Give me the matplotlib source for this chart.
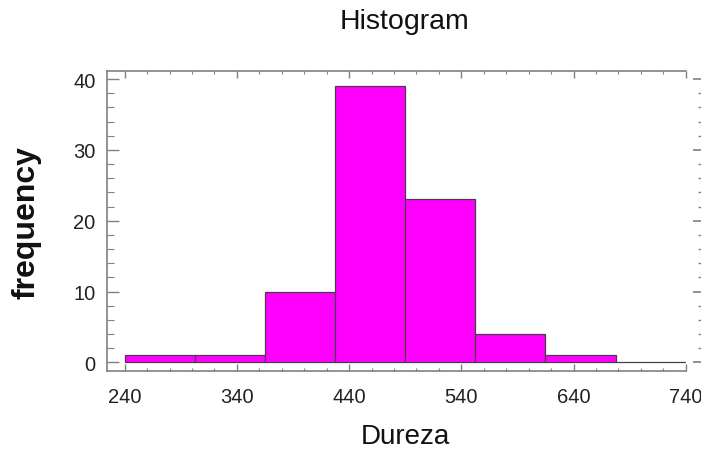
import numpy as np
import matplotlib
matplotlib.use("Agg")
import matplotlib.pyplot as plt
from matplotlib.ticker import MultipleLocator

# histogram of Dureza
bin_edges = [240, 302.5, 365, 427.5, 490, 552.5, 615, 677.5, 740]
counts = [1, 1, 10, 39, 23, 4, 1, 0]
x_ticks = [240, 340, 440, 540, 640, 740]
y_ticks = [0, 10, 20, 30, 40]

plt.rcParams['font.family'] = ['Liberation Sans', 'DejaVu Sans']

fig = plt.figure(figsize=(7.01, 4.52), dpi=100)
ax = fig.add_axes([0.1522, 0.1763, 0.8260, 0.6637])

edges = np.array(bin_edges)
ax.bar(edges[:-1], counts, width=np.diff(edges), align='edge',
       color='#ff00ff', edgecolor='#4a3a4a', linewidth=0.9)

ax.set_xlim(224, 740)
ax.set_ylim(-1.27, 41.1)
ax.set_xticks(x_ticks)
ax.set_yticks(y_ticks)
ax.xaxis.set_minor_locator(MultipleLocator(20))
ax.yaxis.set_minor_locator(MultipleLocator(2))

grey = '#808080'
for s in ['left', 'bottom', 'top']:
    ax.spines[s].set_color(grey)
    ax.spines[s].set_linewidth(1.2)
ax.spines['right'].set_visible(False)

ax.tick_params(axis='x', which='both', direction='in', top=True, color=grey,
               labelsize=14.5, pad=11, labelcolor='#222222')
ax.tick_params(axis='x', which='major', length=5, width=1)
ax.tick_params(axis='x', which='minor', length=2.5, width=0.8)
ax.tick_params(axis='y', which='both', direction='in', right=False, color=grey,
               labelsize=14.5, pad=8, labelcolor='#222222')
ax.tick_params(axis='y', which='major', length=8.5, width=1)
ax.tick_params(axis='y', which='minor', length=5, width=0.8)

# right-hand tick column, offset from the box
ax2 = ax.twinx()
ax2.set_ylim(ax.get_ylim())
ax2.set_yticks(y_ticks)
ax2.yaxis.set_minor_locator(MultipleLocator(2))
ax2.spines['right'].set_position(('outward', 12))
for s in ax2.spines.values():
    s.set_visible(False)
ax2.tick_params(axis='y', which='both', direction='in', color=grey, labelright=False)
ax2.tick_params(axis='y', which='major', length=6.5, width=1.2)
ax2.tick_params(axis='y', which='minor', length=3, width=1)

fig.text(0.577, 0.951, 'Histogram', ha='center', va='center', fontsize=20.5, color='#111111')
fig.text(0.578, 0.033, 'Dureza', ha='center', va='center', fontsize=20, color='#111111')
fig.text(0.038, 0.508, 'frequency', ha='center', va='center', rotation=90,
         fontsize=23, fontweight='bold', color='#111111')

fig.savefig('out.png', dpi=100)
